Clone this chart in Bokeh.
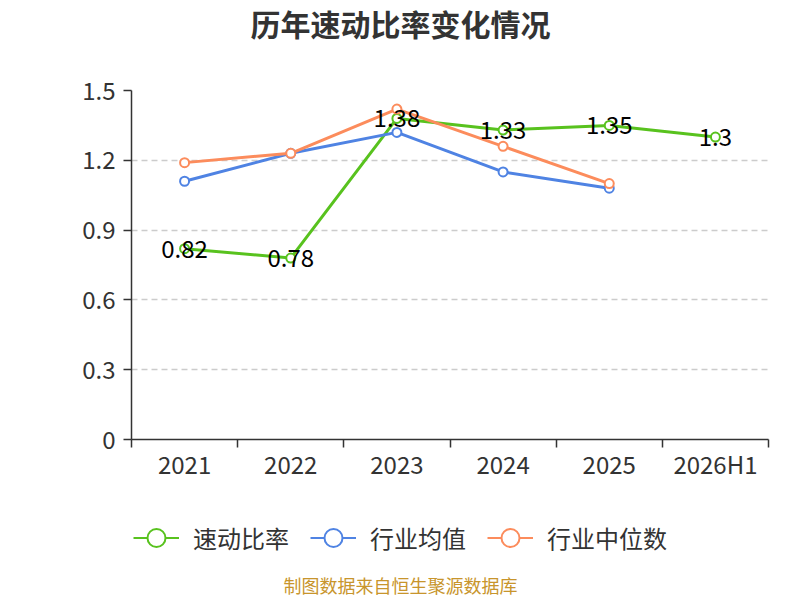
from bokeh.plotting import figure
from bokeh.layouts import column
from bokeh.models import (ColumnDataSource, FixedTicker, Label, Legend, LegendItem,
                          Range1d)
from bokeh.core.properties import value
from bokeh.embed import file_html
from bokeh.resources import INLINE

# data
years = ["2021", "2022", "2023", "2024", "2025", "2026H1"]
quick_ratio = [0.82, 0.78, 1.38, 1.33, 1.35, 1.3]
industry_mean = [1.11, 1.23, 1.32, 1.15, 1.08]
industry_median = [1.19, 1.23, 1.42, 1.26, 1.10]
y_ticks = [0, 0.3, 0.6, 0.9, 1.2, 1.5]
y_tick_labels = ["0", "0.3", "0.6", "0.9", "1.2", "1.5"]

FONT = "Noto Sans CJK SC"
GREEN = "#58c21e"
BLUE = "#4f83e3"
ORANGE = "#fc8c5c"

x_pos = [i + 0.5 for i in range(len(years))]


def strip(h):
    # plain figure with no axes, used for the title and the footer
    f = figure(width=800, height=h, output_backend="svg", toolbar_location=None,
               x_range=Range1d(0, 637), y_range=Range1d(0, h),
               min_border_left=131, min_border_right=32, min_border_top=0,
               min_border_bottom=0)
    f.axis.visible = False
    f.grid.visible = False
    f.outline_line_color = None
    return f


head = strip(48)
head.add_layout(Label(x=269, y=26, text="历年速动比率变化情况", text_align="center",
                      text_baseline="middle", text_font=FONT,
                      text_font_size="30px", text_font_style="bold",
                      text_color="#333333"))

p = figure(width=800, height=435, output_backend="svg", toolbar_location=None,
           x_range=Range1d(0, len(years)), y_range=Range1d(0, 1.5),
           min_border_left=131, min_border_right=32, min_border_top=42,
           min_border_bottom=43)
p.outline_line_color = None
p.xgrid.grid_line_color = None
p.ygrid.grid_line_color = "#cccccc"
p.ygrid.grid_line_dash = "6 4"
p.ygrid.grid_line_width = 1.5

# x axis: labels at centres, tick marks at the category boundaries
p.xaxis.ticker = FixedTicker(ticks=x_pos, minor_ticks=list(range(len(years) + 1)))
p.xaxis.major_label_overrides = {x: y for x, y in zip(x_pos, years)}
p.xaxis.major_tick_out = 0
p.xaxis.major_tick_in = 0
p.xaxis.minor_tick_out = 8
p.xaxis.minor_tick_in = 0
p.xaxis.minor_tick_line_color = "#333333"
p.xaxis.minor_tick_line_width = 1.5

p.yaxis.ticker = FixedTicker(ticks=y_ticks)
p.yaxis.major_label_overrides = {t: s for t, s in zip(y_ticks, y_tick_labels)}
p.yaxis.major_tick_out = 8
p.yaxis.major_tick_in = 0
p.yaxis.minor_tick_out = 0
p.yaxis.minor_tick_in = 0

for ax in (p.xaxis, p.yaxis):
    ax.axis_line_color = "#333333"
    ax.axis_line_width = 1.5
    ax.major_tick_line_color = "#333333"
    ax.major_tick_line_width = 1.5
    ax.major_label_text_font = FONT
    ax.major_label_text_font_size = "24px"
    ax.major_label_text_color = "#333333"
p.yaxis.major_label_standoff = 8
p.xaxis.major_label_standoff = -2

series = [
    ("速动比率", quick_ratio, GREEN),
    ("行业均值", industry_mean, BLUE),
    ("行业中位数", industry_median, ORANGE),
]

# lower strip holding the legend and the source note
foot = strip(113)

items = []
for name, vals, color in series:
    src = ColumnDataSource(dict(x=x_pos[:len(vals)], y=vals))
    p.line("x", "y", source=src, line_color=color, line_width=3)
    p.scatter("x", "y", source=src, size=9, fill_color="white",
              line_color=color, line_width=2)
    # legend swatches, parked outside the visible range of the strip
    lg_line = foot.line(x=[-100, -99], y=[-100, -100], line_color=color, line_width=2)
    lg_dot = foot.scatter(x=[-100], y=[-100], size=20, fill_color="white",
                          line_color=color, line_width=2)
    items.append(LegendItem(label=name, renderers=[lg_line, lg_dot]))

lab_src = ColumnDataSource(dict(x=x_pos, y=quick_ratio,
                                t=[f"{v:g}" for v in quick_ratio]))
p.text("x", "y", text="t", source=lab_src, text_align="center",
       text_baseline="middle", text_font=value(FONT), text_font_size="24px",
       text_color="black")

legend = Legend(items=items, orientation="horizontal", location=(2, 36),
                label_text_font=FONT, label_text_font_size="24px",
                label_text_color="#333333", glyph_width=46, glyph_height=45,
                spacing=21, label_standoff=14, border_line_color=None,
                background_fill_alpha=0, margin=0, padding=0)
foot.add_layout(legend)

foot.add_layout(Label(x=269, y=12, text="制图数据来自恒生聚源数据库",
                      text_align="center", text_baseline="middle",
                      text_font=FONT, text_font_size="18px",
                      text_color="#c8952c"))

layout = column(head, p, foot, spacing=0)
open("out.html", "w").write(file_html(layout, INLINE))
